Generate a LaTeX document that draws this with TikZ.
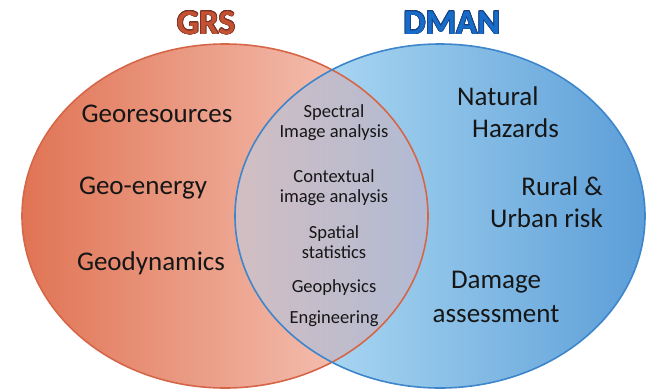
\documentclass[tikz,border=0pt]{standalone}
\usepackage{fontspec}
\setmainfont{Carlito}
\usepackage{xcolor}
\usepackage{contour}
\contourlength{0.7pt}
\usetikzlibrary{positioning}

\definecolor{grsdark}{RGB}{224,116,84}
\definecolor{grslight}{RGB}{249,210,200}
\definecolor{grsline}{RGB}{214,102,72}
\definecolor{grstitle}{RGB}{196,82,50}
\definecolor{grsedge}{RGB}{120,48,36}
\definecolor{dmanlight}{RGB}{190,230,248}
\definecolor{dmandark}{RGB}{92,158,216}
\definecolor{dmanline}{RGB}{62,134,204}
\definecolor{dmantitle}{RGB}{22,108,200}
\definecolor{dmanedge}{RGB}{24,64,130}
\definecolor{mixleft}{RGB}{210,190,194}
\definecolor{mixright}{RGB}{176,186,212}
\definecolor{labeltext}{RGB}{22,22,22}

\begin{document}
\begin{tikzpicture}[x=1pt, y=-1pt,
  title/.style={font=\fontsize{35}{37}\selectfont\bfseries, inner sep=0pt},
  topic/.style={font=\fontsize{27}{32}\selectfont, text=labeltext, inner sep=0pt},
  method/.style={font=\fontsize{18.5}{20}\selectfont, text=labeltext, align=center, inner sep=0pt},
  setline/.style={line width=1.6pt},
]
  \useasboundingbox (0,0) rectangle (654,389);

  % --- Set centres ---
  \coordinate (grsc)  at (225,216);
  \coordinate (dmanc) at (440,216);

  % --- Filled sets ---
  \fill[left color=grsdark, right color=grslight]
    (grsc) ellipse [x radius=203, y radius=172];
  \fill[left color=dmanlight, right color=dmandark]
    (dmanc) ellipse [x radius=205, y radius=172];

  % --- Overlap ---
  \begin{scope}
    \clip (grsc) ellipse [x radius=203, y radius=172];
    \clip (dmanc) ellipse [x radius=205, y radius=172];
    \fill[left color=mixleft, right color=mixright] (235,44) rectangle (428,388);
  \end{scope}

  % --- Outlines ---
  \draw[setline, grsline]  (grsc)  ellipse [x radius=203, y radius=172];
  \draw[setline, dmanline] (dmanc) ellipse [x radius=205, y radius=172];

  % --- Titles ---
  \node[title] (grs)  at (206,23) {\contour{grsedge}{\textcolor{grstitle}{GRS}}};
  \node[title] (dman) at (452,23) {\contour{dmanedge}{\textcolor{dmantitle}{DMAN}}};

  % --- GRS topics (base = last line) ---
  \node[topic, anchor=base] (georesources) at (157,122) {Georesources};
  \node[topic, anchor=base] (geoenergy)    at (143,194) {Geo-energy};
  \node[topic, anchor=base] (geodynamics)  at (151,270) {Geodynamics};

  % --- DMAN topics ---
  \node[topic, anchor=base west, align=left] (hazards) at (457,137)
    {Natural\\\hspace*{15pt}Hazards};
  \node[topic, anchor=base east, align=right] (risk) at (603,227)
    {Rural \&\\Urban risk};
  \node[topic, anchor=base, align=center] (damage) at (496,322)
    {Damage\\[2pt]assessment};

  % --- Shared methods ---
  \node[method, anchor=base] (spectral)    at (334,137) {Spectral\\Image analysis};
  \node[method, anchor=base] (contextual)  at (334,202) {Contextual\\image analysis};
  \node[method, anchor=base] (spatial)     at (334,258) {Spatial\\statistics};
  \node[method, anchor=base] (geophysics)  at (334,292) {Geophysics};
  \node[method, anchor=base] (engineering) at (334,323) {Engineering};

\end{tikzpicture}
\end{document}
